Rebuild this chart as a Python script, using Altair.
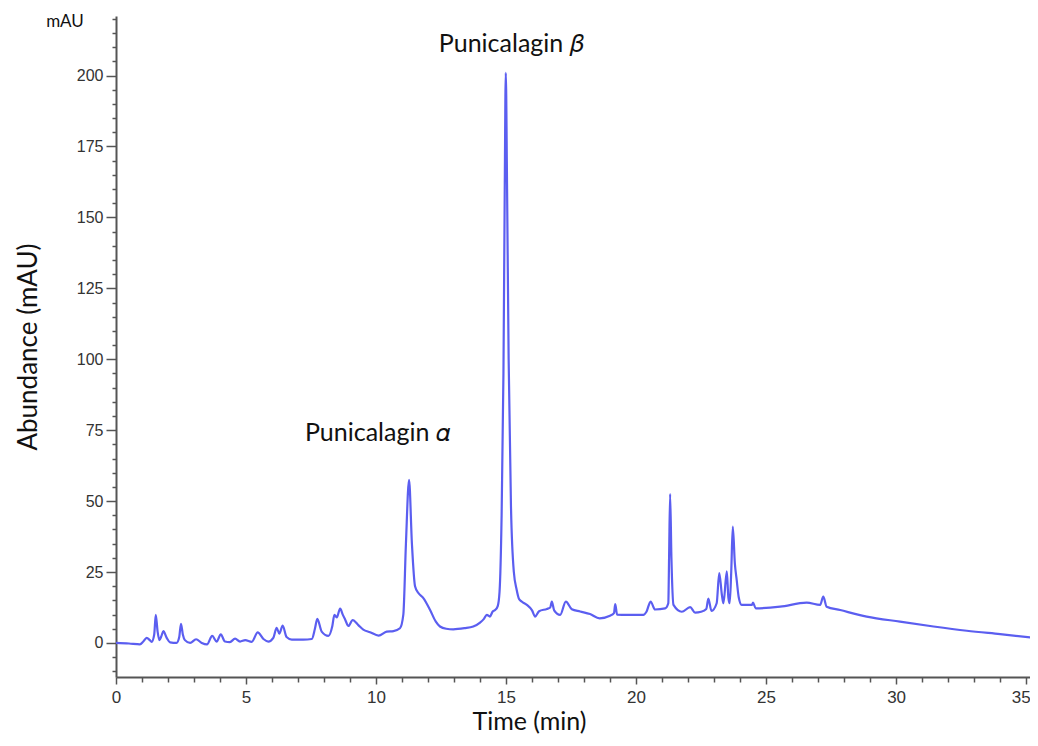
import altair as alt
import pandas as pd

# Chromatogram trace (time in min, abundance in mAU)
time_min = [0.0, 0.5, 0.92, 1.05, 1.18, 1.3, 1.37, 1.47, 1.53, 1.6, 1.67, 1.75, 1.82, 1.95, 2.08,
            2.33, 2.43, 2.5, 2.57, 2.65, 2.85, 3.08, 3.3, 3.5, 3.7, 3.87, 4.03, 4.19, 4.38, 4.58,
            4.77, 4.97, 5.22, 5.45, 5.67, 5.86, 6.05, 6.18, 6.28, 6.41, 6.56, 6.76, 7.2, 7.53,
            7.65, 7.74, 7.91, 8.17, 8.32, 8.4, 8.49, 8.62, 8.72, 8.81, 8.94, 9.1, 9.32, 9.51,
            9.77, 10.1, 10.41, 10.67, 10.92, 11.05, 11.15, 11.27, 11.38, 11.5, 11.63, 11.82,
            12.08, 12.3, 12.46, 12.7, 12.97, 13.4, 13.74, 14.0, 14.15, 14.26, 14.38, 14.48,
            14.58, 14.68, 14.75, 14.83, 14.9, 14.95, 14.99, 15.04, 15.1, 15.19, 15.3, 15.41,
            15.5, 15.6, 15.8, 16.0, 16.12, 16.27, 16.57, 16.7, 16.76, 16.85, 17.08, 17.3, 17.53,
            17.85, 18.23, 18.6, 19.0, 19.15, 19.2, 19.27, 19.65, 20.28, 20.4, 20.56, 20.73,
            21.12, 21.24, 21.27, 21.31, 21.36, 21.44, 21.76, 22.08, 22.27, 22.5, 22.7, 22.78,
            22.9, 23.1, 23.2, 23.3, 23.36, 23.49, 23.55, 23.6, 23.66, 23.72, 23.8, 23.87, 23.95,
            24.06, 24.45, 24.5, 24.6, 25.54, 26.56, 27.08, 27.2, 27.33, 27.85, 28.87, 30.15,
            31.44, 32.72, 34.0, 35.46]
abundance = [0.0, -0.2, -0.5, 0.5, 1.8, 1.0, 0.4, 3.0, 9.9, 4.0, 1.0, 2.5, 4.2, 1.8, 0.2,
             0.0, 2.0, 6.7, 3.0, 1.0, 0.0, 1.3, 0.0, -0.5, 2.5, 0.5, 3.0, 0.5, 0.3, 1.5,
             0.5, 1.0, 0.4, 3.7, 1.4, 0.5, 1.8, 5.3, 3.3, 6.1, 2.1, 1.2, 1.2, 1.4,
             5.0, 8.5, 4.0, 2.5, 6.0, 9.9, 9.0, 12.1, 10.0, 8.3, 6.0, 8.1, 6.3, 4.7,
             3.8, 2.6, 4.0, 4.2, 5.2, 10.0, 35.0, 57.5, 35.0, 20.0, 17.6, 15.8,
             11.6, 7.5, 5.8, 5.0, 4.8, 5.2, 5.8, 7.2, 8.5, 9.9, 9.3, 11.0,
             11.6, 13.0, 18.0, 45.0, 95.0, 160.0, 201.0, 160.0, 100.0, 48.0, 25.0, 18.7,
             15.5, 14.6, 13.4, 11.5, 9.3, 11.2, 12.0, 12.5, 14.6, 11.5, 9.9, 14.6, 11.9,
             11.1, 10.2, 8.7, 9.6, 10.5, 13.7, 10.0, 9.9, 9.9, 11.0, 14.6, 11.8,
             12.2, 14.0, 30.0, 52.5, 30.0, 13.4, 11.0, 12.6, 10.7, 11.0, 12.0, 15.6,
             11.3, 14.0, 24.6, 17.0, 14.0, 25.2, 16.0, 14.0, 25.0, 41.0, 28.0, 22.2, 16.0,
             13.4, 13.4, 14.2, 12.2, 12.8, 14.2, 13.4, 16.3, 12.8, 11.6, 9.3, 7.5,
             5.8, 4.3, 3.1, 1.7]

# Peak annotations
ann_text = ["Punicalagin 𝛼", "Punicalagin 𝛽"]
ann_time = [10.05, 15.2]
ann_value = [74, 211]

x_ticks = list(range(0, 36))
y_ticks = list(range(-10, 225, 5))

trace = pd.DataFrame({"t": time_min, "v": abundance})
ann = pd.DataFrame({"label": ann_text, "t": ann_time, "v": ann_value})

TICK_FONT = "Liberation Sans Narrow, Liberation Sans, sans-serif"
TITLE_FONT = "Lato, Open Sans, sans-serif"

x_scale = alt.Scale(domain=[0, 35.15], nice=False, zero=False)
y_scale = alt.Scale(domain=[-12, 221], nice=False, zero=False)

x_axis = alt.Axis(
    values=x_ticks,
    labelExpr="datum.value % 5 == 0 ? datum.label : ''",
    labelOverlap=False,
    labelAlign={"condition": {"test": "datum.value == 35", "value": "right"}, "value": "center"},
    labelOffset={"condition": {"test": "datum.value == 35", "value": 4}, "value": 0},
    tickSize={"condition": {"test": "datum.value % 5 == 0", "value": 7}, "value": 5},
    grid=False, domainColor="#555", tickColor="#555", domainWidth=2, tickWidth=1.5,
    labelFont=TICK_FONT, labelFontSize=17, labelColor="#333", labelPadding=5,
    title="Time (min)", titleFont=TITLE_FONT, titleFontSize=25,
    titleFontWeight="normal", titleColor="#111",
    titleX=413, titleY=52, titleAlign="center", titleBaseline="alphabetic",
)
y_axis = alt.Axis(
    values=y_ticks,
    labelExpr="datum.value % 25 == 0 ? datum.label : ''",
    labelOverlap=False,
    tickSize={"condition": {"test": "datum.value % 25 == 0", "value": 10}, "value": 4},
    grid=False, domainColor="#555", tickColor="#555", domainWidth=2, tickWidth=1.5,
    labelFont=TICK_FONT, labelFontSize=16, labelColor="#333", labelPadding=3,
    title="Abundance  (mAU)", titleFont=TITLE_FONT, titleFontSize=26,
    titleFontWeight="normal", titleColor="#111", titlePadding=35,
)

x_enc = alt.X("t:Q", scale=x_scale, axis=x_axis)
y_enc = alt.Y("v:Q", scale=y_scale, axis=y_axis)

line = alt.Chart(trace).mark_line(
    color="#5b5ef0", strokeWidth=2.2, clip=True, interpolate="monotone"
).encode(x=x_enc, y=y_enc)

labels = alt.Chart(ann).mark_text(
    font=TITLE_FONT, fontSize=25, color="#111", align="center", baseline="middle"
).encode(x=x_enc, y=y_enc, text="label:N")

unit = alt.Chart(pd.DataFrame({"label": ["mAU"]})).mark_text(
    font=TITLE_FONT, fontSize=17, color="#111", align="center", baseline="middle"
).encode(
    x=alt.value(-51), y=alt.value(6), text="label:N"
)

chart = alt.layer(line, labels, unit).properties(
    width=914, height=661,
    autosize=alt.AutoSizeParams(type="none"),
    padding={"left": 108, "top": 8, "right": 0, "bottom": 61},
).configure(
    background="white",
    view=alt.ViewConfig(stroke=None),
    axis=alt.AxisConfig(labelOverlap=False),
)

chart.save("out.html", embed_options={"renderer": "svg", "actions": False})
